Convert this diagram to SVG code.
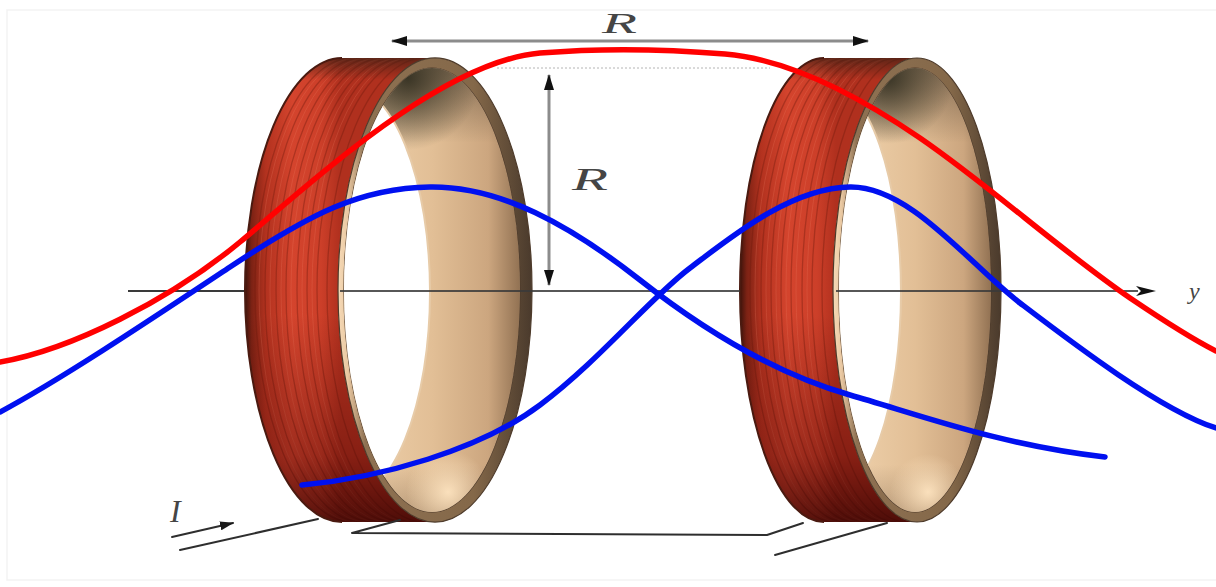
<svg xmlns="http://www.w3.org/2000/svg" width="1216" height="587" viewBox="0 0 1216 587">
  <style>
    .wind{fill:none;stroke:#6e1a0e;stroke-opacity:.38;stroke-width:1.3}
    .windHi{fill:none;stroke:#f2866a;stroke-opacity:.22;stroke-width:1}
    .backEdge{fill:none;stroke:#4a1a10;stroke-width:2}
    .axis{fill:none;stroke:#3a3a3a;stroke-width:2.2}
    .dim{fill:none;stroke:#8c8c8c;stroke-width:3}
    .guide{fill:none;stroke:#b4b4b4;stroke-width:1;stroke-dasharray:2 2}
    .wire{fill:none;stroke:#2e2e2e;stroke-width:2;stroke-linecap:round;stroke-linejoin:round}
    .lbl{font-family:"Liberation Serif","DejaVu Serif",serif;font-style:italic;fill:#454545}
    .curve{fill:none;stroke-width:5.5;stroke-linecap:round;stroke-linejoin:round}
    .hole{fill:#ffffff;stroke:#e7cba8;stroke-width:2}
  </style>
  <defs>
    <!-- copper winding colour across the band -->
    <linearGradient id="bandStops">
      <stop offset="0" stop-color="#3d130b"/>
      <stop offset="0.07" stop-color="#7c2214"/>
      <stop offset="0.22" stop-color="#b3321f"/>
      <stop offset="0.5" stop-color="#d4442d"/>
      <stop offset="0.8" stop-color="#cc3f29"/>
      <stop offset="1" stop-color="#b0301e"/>
    </linearGradient>
    <linearGradient id="bandL" href="#bandStops" gradientUnits="userSpaceOnUse" x1="245" y1="0" x2="340" y2="0"/>
    <linearGradient id="bandR" href="#bandStops" gradientUnits="userSpaceOnUse" x1="740" y1="0" x2="836" y2="0"/>
    <!-- top and bottom darkening of the band -->
    <linearGradient id="bandShade" x1="0" y1="0" x2="0" y2="1">
      <stop offset="0" stop-color="#3c2014" stop-opacity="0.75"/>
      <stop offset="0.05" stop-color="#3c2014" stop-opacity="0"/>
      <stop offset="0.55" stop-color="#3c0000" stop-opacity="0"/>
      <stop offset="0.85" stop-color="#3c0000" stop-opacity="0.35"/>
      <stop offset="1" stop-color="#280000" stop-opacity="0.75"/>
    </linearGradient>
    <!-- front flange -->
    <linearGradient id="flange" x1="0" y1="0" x2="1" y2="0">
      <stop offset="0" stop-color="#f6dab7"/>
      <stop offset="0.05" stop-color="#e9c8a2"/>
      <stop offset="0.14" stop-color="#8e7152"/>
      <stop offset="0.7" stop-color="#846849"/>
      <stop offset="1" stop-color="#4a3a2c"/>
    </linearGradient>
    <!-- inner wall of the former -->
    <linearGradient id="inner" x1="0" y1="0" x2="1" y2="0">
      <stop offset="0" stop-color="#f0d3ae"/>
      <stop offset="0.5" stop-color="#e2bf96"/>
      <stop offset="0.82" stop-color="#cca67f"/>
      <stop offset="1" stop-color="#927253"/>
    </linearGradient>
    <linearGradient id="innerShade" x1="0" y1="0" x2="0" y2="1">
      <stop offset="0" stop-color="#3a3025" stop-opacity="0.55"/>
      <stop offset="0.18" stop-color="#3a3025" stop-opacity="0"/>
      <stop offset="0.88" stop-color="#5a4432" stop-opacity="0"/>
      <stop offset="1" stop-color="#5a4432" stop-opacity="0.35"/>
    </linearGradient>
    <radialGradient id="topShadowL" gradientUnits="userSpaceOnUse" cx="408" cy="78" r="72">
      <stop offset="0" stop-color="#2f2c1e" stop-opacity="0.9"/>
      <stop offset="1" stop-color="#2f2c1e" stop-opacity="0"/>
    </radialGradient>
    <radialGradient id="topShadowR" gradientUnits="userSpaceOnUse" cx="888" cy="78" r="66">
      <stop offset="0" stop-color="#2f2c1e" stop-opacity="0.9"/>
      <stop offset="1" stop-color="#2f2c1e" stop-opacity="0"/>
    </radialGradient>
    <radialGradient id="glowL" gradientUnits="userSpaceOnUse" cx="448" cy="492" r="42">
      <stop offset="0" stop-color="#fde3bf" stop-opacity="0.95"/>
      <stop offset="1" stop-color="#fde3bf" stop-opacity="0"/>
    </radialGradient>
    <radialGradient id="glowR" gradientUnits="userSpaceOnUse" cx="928" cy="492" r="38">
      <stop offset="0" stop-color="#fde3bf" stop-opacity="0.95"/>
      <stop offset="1" stop-color="#fde3bf" stop-opacity="0"/>
    </radialGradient>

    <clipPath id="clipBandL"><path d="M342,58 A97,232 0 0 0 342,522 L435,522 A97,232 0 0 1 435,58 Z"/></clipPath>
    <clipPath id="clipBandR"><path d="M824,58 A84,232 0 0 0 824,522 L917,522 A84,232 0 0 1 917,58 Z"/></clipPath>
    <clipPath id="clipInnerL"><ellipse cx="432" cy="290" rx="88" ry="222"/></clipPath>
    <clipPath id="clipInnerR"><ellipse cx="915" cy="290" rx="76" ry="222"/></clipPath>

    <marker id="dimHead" viewBox="0 0 16 10" refX="15" refY="5" markerWidth="16" markerHeight="10" markerUnits="userSpaceOnUse" orient="auto-start-reverse">
      <path d="M0,0 L16,5 L0,10 Z" fill="#111"/>
    </marker>
    <marker id="axisHead" viewBox="0 0 20 12" refX="2" refY="6" markerWidth="20" markerHeight="12" markerUnits="userSpaceOnUse" orient="auto">
      <path d="M0,1 L20,6 L0,11 L5,6 Z" fill="#111"/>
    </marker>
    <marker id="currentHead" viewBox="0 0 14 9" refX="13" refY="4.5" markerWidth="14" markerHeight="9" markerUnits="userSpaceOnUse" orient="auto">
      <path d="M0,0 L14,4.5 L0,9 Z" fill="#1a1a1a"/>
    </marker>
  </defs>

  <rect x="0" y="0" width="1216" height="587" fill="#ffffff"/>
  <rect x="7" y="10" width="1214" height="570" fill="none" stroke="#f3f3f3" stroke-width="1.5"/>

  <!-- axis, hidden behind the outer windings -->
  <g id="axis">
    <path class="axis" d="M128,291 H245"/>
  </g>

  <!-- left coil -->
  <g id="coil-left">
    <path d="M342,58 A97,232 0 0 0 342,522 L435,522 A97,232 0 0 1 435,58 Z" fill="url(#bandL)"/>
    <g clip-path="url(#clipBandL)">
      <path class="wind" d="M352,58 A97,232 0 0 0 352,522 M362,58 A97,232 0 0 0 362,522 M373,58 A97,232 0 0 0 373,522 M383,58 A97,232 0 0 0 383,522 M394,58 A97,232 0 0 0 394,522 M404,58 A97,232 0 0 0 404,522 M414,58 A97,232 0 0 0 414,522 M424,58 A97,232 0 0 0 424,522"/>
      <path class="windHi" d="M356,58 A97,232 0 0 0 356,522 M367,58 A97,232 0 0 0 367,522 M378,58 A97,232 0 0 0 378,522 M388,58 A97,232 0 0 0 388,522 M399,58 A97,232 0 0 0 399,522 M409,58 A97,232 0 0 0 409,522"/>
      <rect x="240" y="56" width="200" height="470" fill="url(#bandShade)"/>
    </g>
    <path class="backEdge" d="M342,58 A97,232 0 0 0 342,522"/>
    <path d="M338,290 A97,232 0 1 0 532,290 A97,232 0 1 0 338,290 Z M344,290 A88,222 0 1 0 520,290 A88,222 0 1 0 344,290 Z" fill="url(#flange)" fill-rule="evenodd" stroke="#4e3b2b" stroke-width="1.2"/>
    <ellipse cx="432" cy="290" rx="88" ry="222" fill="url(#inner)"/>
    <g clip-path="url(#clipInnerL)">
      <rect x="340" y="60" width="185" height="460" fill="url(#innerShade)"/>
      <rect x="330" y="60" width="160" height="160" fill="url(#topShadowL)"/>
      <rect x="400" y="440" width="100" height="80" fill="url(#glowL)"/>
      <ellipse class="hole" cx="345" cy="292" rx="85" ry="208"/>
    </g>
  </g>

  <!-- right coil -->
  <g id="coil-right">
    <path d="M824,58 A84,232 0 0 0 824,522 L917,522 A84,232 0 0 1 917,58 Z" fill="url(#bandR)"/>
    <g clip-path="url(#clipBandR)">
      <path class="wind" d="M834,58 A84,232 0 0 0 834,522 M845,58 A84,232 0 0 0 845,522 M855,58 A84,232 0 0 0 855,522 M865,58 A84,232 0 0 0 865,522 M875,58 A84,232 0 0 0 875,522 M886,58 A84,232 0 0 0 886,522 M896,58 A84,232 0 0 0 896,522 M906,58 A84,232 0 0 0 906,522"/>
      <path class="windHi" d="M839,58 A84,232 0 0 0 839,522 M850,58 A84,232 0 0 0 850,522 M860,58 A84,232 0 0 0 860,522 M870,58 A84,232 0 0 0 870,522 M880,58 A84,232 0 0 0 880,522 M891,58 A84,232 0 0 0 891,522"/>
      <rect x="735" y="56" width="190" height="470" fill="url(#bandShade)"/>
    </g>
    <path class="backEdge" d="M824,58 A84,232 0 0 0 824,522"/>
    <path d="M833,290 A84,232 0 1 0 1001,290 A84,232 0 1 0 833,290 Z M839,290 A76,222 0 1 0 991,290 A76,222 0 1 0 839,290 Z" fill="url(#flange)" fill-rule="evenodd" stroke="#4e3b2b" stroke-width="1.2"/>
    <ellipse cx="915" cy="290" rx="76" ry="222" fill="url(#inner)"/>
    <g clip-path="url(#clipInnerR)">
      <rect x="835" y="60" width="160" height="460" fill="url(#innerShade)"/>
      <rect x="815" y="60" width="150" height="150" fill="url(#topShadowR)"/>
      <rect x="885" y="440" width="90" height="80" fill="url(#glowR)"/>
      <ellipse class="hole" cx="828" cy="292" rx="73" ry="208"/>
    </g>
  </g>

  <!-- axis through the openings and on to the arrow -->
  <g id="axis-front">
    <path class="axis" d="M340,291 H740" stroke-opacity="0.85"/>
    <path class="axis" d="M836,291 H1138" stroke-opacity="0.85" marker-end="url(#axisHead)"/>
    <text class="lbl" x="1189" y="299" font-size="24" fill="#2a2a2a">y</text>
  </g>

  <!-- dimensions -->
  <g id="dimensions">
    <path class="guide" d="M497,68 H770"/>
    <path class="dim" d="M392,41 H868" marker-start="url(#dimHead)" marker-end="url(#dimHead)"/>
    <text class="lbl" x="602" y="33" font-size="29" textLength="35" lengthAdjust="spacingAndGlyphs">R</text>
    <path class="dim" d="M549,75 V285" marker-start="url(#dimHead)" marker-end="url(#dimHead)"/>
    <text class="lbl" x="572" y="190" font-size="31" textLength="36" lengthAdjust="spacingAndGlyphs">R</text>
  </g>

  <!-- leads -->
  <g id="leads">
    <path class="wire" d="M172,537 L233,523" marker-end="url(#currentHead)"/>
    <path class="wire" d="M180,550 L318,519"/>
    <path class="wire" d="M400,520 L352,533 L767,535 L803,523" stroke="#3a3a3a"/>
    <path class="wire" d="M775,555 L887,523"/>
    <text class="lbl" x="170" y="522" font-size="32" fill="#333">I</text>
  </g>

  <!-- field curves -->
  <g id="field-curves">
    <path class="curve" stroke="#ff0000" d="M0,362 C70,350 170,300 240,242 S440,62 540,53 C600,48 665,49 725,54 C785,59 850,90 920,138 S1060,250 1130,298 C1170,325 1200,343 1216,351"/>
    <path class="curve" stroke="#0010f0" d="M0,412 C60,380 150,320 230,267 S360,188 430,187 S570,225 640,280 S780,375 850,395 S1000,445 1105,457"/>
    <path class="curve" stroke="#0010f0" d="M302,485 C380,478 480,450 540,405 S650,298 690,268 S790,188 850,187 S970,265 1020,303 S1160,410 1216,428"/>
  </g>
</svg>
